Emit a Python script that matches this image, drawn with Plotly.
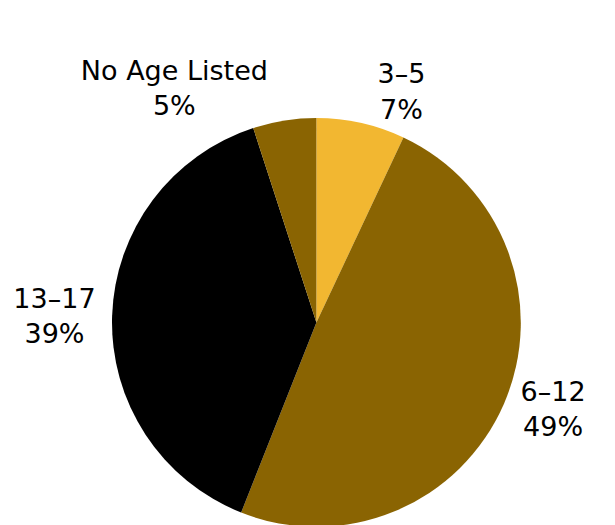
import plotly.graph_objects as go

labels = ["3–5", "6–12", "13–17", "No Age Listed"]
values = [7, 49, 39, 5]
colors = ["#F2B731", "#8A6402", "#000000", "#8A6402"]

fig = go.Figure(go.Pie(
    labels=labels,
    values=values,
    sort=False,
    direction="clockwise",
    rotation=0,
    domain=dict(x=[0, 0.8], y=[0, 1]),
    marker=dict(colors=colors, line=dict(width=0)),
    textinfo="label+percent",
    textposition="outside",
    outsidetextfont=dict(family="DejaVu Sans", size=27, color="#000000"),
    showlegend=False,
    hoverinfo="label+percent",
))

fig.update_layout(
    width=615,
    height=525,
    margin=dict(l=0, r=0, t=109, b=0),
    paper_bgcolor="white",
    plot_bgcolor="white",
    font=dict(family="DejaVu Sans", size=27, color="#000000"),
)

fig.write_html("out.html")
